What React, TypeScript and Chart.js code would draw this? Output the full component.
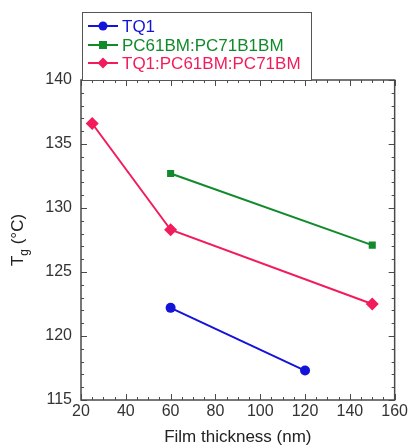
import React, { useEffect, useRef } from "react";
import { Chart, registerables } from "chart.js";

Chart.register(...registerables);

const seriesNames = ["TQ1", "PC61BM:PC71B1BM", "TQ1:PC61BM:PC71BM"];
const tq1X = [60, 120];
const tq1Y = [122.2, 117.3];
const pcbmX = [60, 150];
const pcbmY = [132.7, 127.1];
const blendX = [25, 60, 150];
const blendY = [136.6, 128.3, 122.5];
const colors = ["#1414d8", "#118a2c", "#f21c5c"];
const markers = ["circle", "rect", "rectRot"];
const xTitle = "Film thickness (nm)";
const yTitleMain = "T";
const yTitleSub = "g";
const yTitleRest = " (°C)";

const FONT = "'Liberation Sans', Arial, Helvetica, sans-serif";

const zip = (xs: number[], ys: number[]) => xs.map((x, i) => ({ x, y: ys[i] }));

const framePlugin = {
  id: "frameTicks",
  afterDraw(chart: any) {
    const { ctx } = chart;
    const xs = chart.scales.x;
    const ys = chart.scales.y;
    const left = xs.getPixelForValue(20);
    const right = xs.getPixelForValue(160);
    const top = ys.getPixelForValue(140);
    const bottom = ys.getPixelForValue(115);
    ctx.save();
    ctx.strokeStyle = "#4a4a4a";
    ctx.lineWidth = 1.5;
    ctx.strokeRect(left, top, right - left, bottom - top);
    ctx.lineWidth = 1;
    ctx.beginPath();
    for (let v = 20; v <= 160; v += 5) {
      const p = Math.round(xs.getPixelForValue(v)) + 0.5;
      const len = v % 20 === 0 ? 6 : 3;
      ctx.moveTo(p, bottom);
      ctx.lineTo(p, bottom - len);
      ctx.moveTo(p, top);
      ctx.lineTo(p, top + len);
    }
    for (let v = 115; v <= 140; v += 1) {
      const p = Math.round(ys.getPixelForValue(v)) + 0.5;
      const len = v % 5 === 0 ? 6 : 3;
      ctx.moveTo(left, p);
      ctx.lineTo(left + len, p);
      ctx.moveTo(right, p);
      ctx.lineTo(right - len, p);
    }
    ctx.stroke();

    // axis titles
    ctx.fillStyle = "#222";
    ctx.font = `17px ${FONT}`;
    ctx.textAlign = "center";
    ctx.textBaseline = "middle";
    ctx.fillText(xTitle, (left + right) / 2, 437);

    ctx.save();
    ctx.translate(23, (top + bottom) / 2);
    ctx.rotate(-Math.PI / 2);
    const mainFont = `17px ${FONT}`;
    const subFont = `12px ${FONT}`;
    ctx.font = mainFont;
    const wT = ctx.measureText(yTitleMain).width;
    const wR = ctx.measureText(yTitleRest).width;
    ctx.font = subFont;
    const wS = ctx.measureText(yTitleSub).width;
    const total = wT + wS + wR;
    let cx = -total / 2;
    ctx.textAlign = "left";
    ctx.textBaseline = "alphabetic";
    ctx.font = mainFont;
    ctx.fillText(yTitleMain, cx, 0);
    cx += wT;
    ctx.font = subFont;
    ctx.fillText(yTitleSub, cx, 5);
    cx += wS;
    ctx.font = mainFont;
    ctx.fillText(yTitleRest, cx, 0);
    ctx.restore();

    // legend
    const lx = 82, ly = 12, lw = 229, lh = top - ly;
    ctx.fillStyle = "#fff";
    ctx.fillRect(lx, ly, lw, lh);
    ctx.strokeStyle = "#555";
    ctx.lineWidth = 1;
    ctx.strokeRect(lx + 0.5, ly + 0.5, lw, lh);
    const rowY = [26, 45, 63];
    chart.data.datasets.forEach((ds: any, i: number) => {
      const y = rowY[i];
      ctx.strokeStyle = ds.borderColor;
      ctx.lineWidth = 2;
      ctx.beginPath();
      ctx.moveTo(88, y);
      ctx.lineTo(118, y);
      ctx.stroke();
      ctx.fillStyle = ds.backgroundColor;
      ctx.beginPath();
      if (ds.pointStyle === "circle") {
        ctx.arc(103, y, 4.5, 0, Math.PI * 2);
      } else if (ds.pointStyle === "rect") {
        ctx.rect(99, y - 4, 8, 8);
      } else {
        ctx.moveTo(103, y - 5.5);
        ctx.lineTo(108.5, y);
        ctx.lineTo(103, y + 5.5);
        ctx.lineTo(97.5, y);
        ctx.closePath();
      }
      ctx.fill();
      ctx.font = `17px ${FONT}`;
      ctx.textAlign = "left";
      ctx.textBaseline = "middle";
      ctx.fillText(ds.label, 122, y + 1);
    });
    ctx.restore();
  },
};

export default function App() {
  const ref = useRef<HTMLCanvasElement | null>(null);
  useEffect(() => {
    if (!ref.current) return;
    const datasets = [
      [tq1X, tq1Y],
      [pcbmX, pcbmY],
      [blendX, blendY],
    ].map(([xs, ys], i) => ({
      label: seriesNames[i],
      data: zip(xs, ys),
      borderColor: colors[i],
      backgroundColor: colors[i],
      borderWidth: 2,
      pointStyle: markers[i],
      pointRadius: i === 0 ? 5 : i === 1 ? 5 : 6.5,
      pointBorderWidth: 0,
      tension: 0,
    }));
    const chart = new Chart(ref.current, {
      type: "line",
      data: { datasets },
      options: {
        animation: false,
        responsive: false,
        layout: { padding: { top: 80, right: 12.7, left: 0, bottom: 0 } },
        plugins: { legend: { display: false }, tooltip: { enabled: false } },
        scales: {
          x: {
            type: "linear",
            min: 20,
            max: 160,
            ticks: {
              stepSize: 20,
              font: { size: 16, family: FONT },
              color: "#333",
              padding: 2,
              maxRotation: 0,
            },
            grid: { display: false, drawTicks: false },
            border: { display: false },
            afterFit: (s: any) => {
              s.height = 48;
            },
          },
          y: {
            type: "linear",
            min: 115,
            max: 140,
            ticks: {
              stepSize: 5,
              font: { size: 16, family: FONT },
              color: "#333",
              padding: 9,
            },
            grid: { display: false, drawTicks: false },
            border: { display: false },
            afterFit: (s: any) => {
              s.width = 81;
            },
          },
        },
      },
      plugins: [framePlugin],
    });
    return () => chart.destroy();
  }, []);
  return (
    <div style={{ position: "fixed", left: 0, top: 0, width: 410, height: 448, background: "#fff" }}>
      <canvas ref={ref} width={410} height={448} style={{ width: 410, height: 448, display: "block" }} />
    </div>
  );
}
